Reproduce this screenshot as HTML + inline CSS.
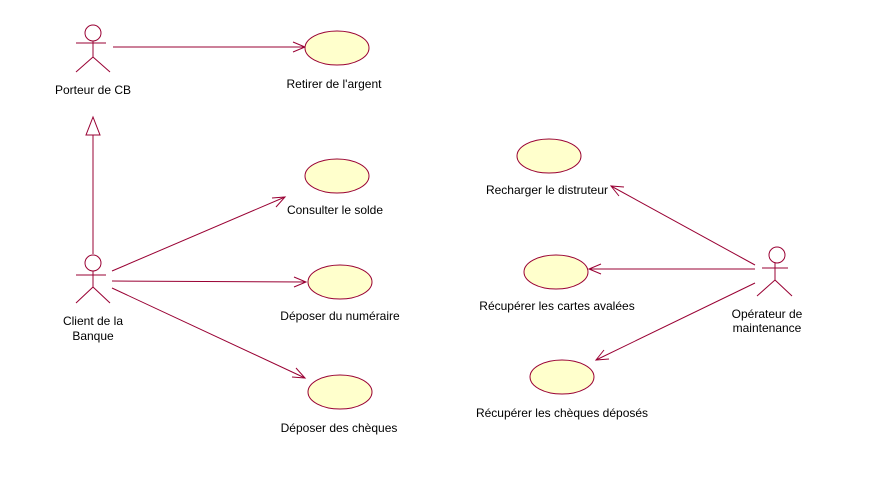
<!DOCTYPE html>
<html><head><meta charset="utf-8"><style>
html,body{margin:0;padding:0;background:#fff;}
svg{display:block;}
text{font-family:"Liberation Sans",Arial,sans-serif;font-size:12px;fill:#000;text-anchor:middle;}
</style></head><body>
<svg width="870" height="478" viewBox="0 0 870 478" xmlns="http://www.w3.org/2000/svg">
<g stroke="#990033" stroke-width="1" fill="none">
<!-- Porteur actor -->
<circle cx="93" cy="33" r="8"/>
<line x1="76" y1="43" x2="106" y2="43"/>
<line x1="93" y1="41" x2="93" y2="57"/>
<line x1="93" y1="57" x2="76" y2="72"/>
<line x1="93" y1="57" x2="110" y2="72"/>
<!-- Client actor -->
<circle cx="93" cy="263" r="8"/>
<line x1="76" y1="275" x2="106" y2="275"/>
<line x1="93" y1="271" x2="93" y2="287"/>
<line x1="93" y1="287" x2="76" y2="303"/>
<line x1="93" y1="287" x2="110" y2="303"/>
<!-- Operateur actor -->
<circle cx="777" cy="255" r="8"/>
<line x1="762" y1="268" x2="788" y2="268"/>
<line x1="775" y1="263" x2="775" y2="280"/>
<line x1="775" y1="280" x2="757" y2="296"/>
<line x1="775" y1="280" x2="792" y2="296"/>
<!-- generalization -->
<line x1="93" y1="254" x2="93" y2="135"/>
<polygon points="93,117 86,135 100,135"/>
<!-- associations -->
<line x1="113" y1="47" x2="305" y2="47"/>
<polyline points="293,42 305,47 293,52"/>
<line x1="112" y1="271" x2="285" y2="197"/>
<polyline points="272,198 285,197 276,207"/>
<line x1="112" y1="281" x2="306" y2="282"/>
<polyline points="294,277 306,282 294,287"/>
<line x1="112" y1="288" x2="305" y2="378"/>
<polyline points="292,377 305,378 296,368"/>
<line x1="755" y1="265" x2="611" y2="186"/>
<polyline points="624,187 611,186 619,196"/>
<line x1="755" y1="269" x2="589" y2="269"/>
<polyline points="601,264 589,269 601,274"/>
<line x1="755" y1="283" x2="596" y2="360"/>
<polyline points="604,350 596,360 609,359"/>
</g>
<g fill="#ffffcc" stroke="#990033">
<ellipse cx="337" cy="48" rx="32" ry="17"/>
<ellipse cx="337" cy="176" rx="32" ry="17"/>
<ellipse cx="340" cy="282" rx="32" ry="17"/>
<ellipse cx="340" cy="392" rx="32" ry="17"/>
<ellipse cx="549" cy="156" rx="32" ry="17"/>
<ellipse cx="556" cy="272" rx="32" ry="17"/>
<ellipse cx="562" cy="377" rx="32" ry="17"/>
</g>
<text x="93" y="94">Porteur de CB</text>
<text x="334" y="88">Retirer de l'argent</text>
<text x="335" y="214">Consulter le solde</text>
<text x="340" y="320">Déposer du numéraire</text>
<text x="339" y="432">Déposer des chèques</text>
<text x="93" y="325">Client de la</text>
<text x="93" y="340">Banque</text>
<text x="547" y="194">Recharger le distruteur</text>
<text x="557" y="310">Récupérer les cartes avalées</text>
<text x="562" y="417">Récupérer les chèques déposés</text>
<text x="767" y="318">Opérateur de</text>
<text x="767" y="332">maintenance</text>
</svg>
</body></html>
